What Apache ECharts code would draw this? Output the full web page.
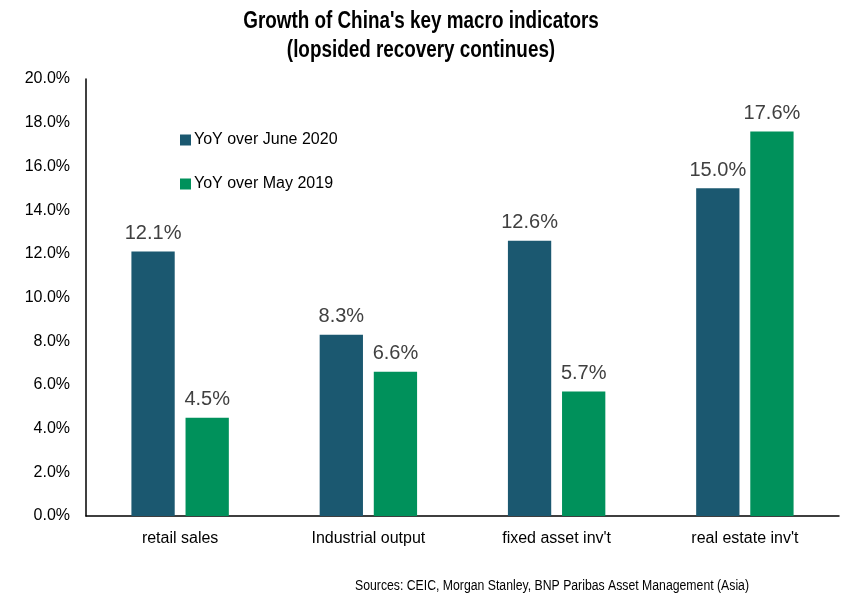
<!DOCTYPE html>
<html><head><meta charset="utf-8">
<script src="https://cdn.jsdelivr.net/npm/echarts@6/dist/echarts.min.js"></script>
<style>html,body{margin:0;padding:0;background:#fff}#c{width:857px;height:602px}</style>
</head><body><div id="c"></div>
<script>
const categories = ["retail sales", "Industrial output", "fixed asset inv't", "real estate inv't"];
const yoyJune2020 = [12.1, 8.3, 12.6, 15.0];
const yoyMay2019 = [4.5, 6.6, 5.7, 17.6];
const seriesNames = ["YoY over June 2020", "YoY over May 2019"];
const titleText = "Growth of China's key macro indicators\n(lopsided recovery continues)";
const sourceText = "Sources: CEIC, Morgan Stanley, BNP Paribas Asset Management (Asia)";
const narrow = "'Liberation Sans Narrow','Arial Narrow','Liberation Sans',Arial,sans-serif";
const chart = echarts.init(document.getElementById('c'));
const lbl = {show:true, position:'top', distance:8, fontFamily:"'Liberation Sans',Arial,sans-serif", fontSize:20, color:'#404040', formatter:p=>p.value.toFixed(1)+'%'};
chart.setOption({
  animation:false,
  graphic:[
    {type:'text', x:421, y:7, scaleX:0.82, style:{text:titleText, textAlign:'center', textVerticalAlign:'top',
      font:"bold 23px 'Liberation Sans',Arial,sans-serif", lineHeight:29, fill:'#000'}},
    {type:'text', x:749, y:579, scaleX:0.875, style:{text:sourceText, textAlign:'right', textVerticalAlign:'top',
      font:"14px 'Liberation Sans',Arial,sans-serif", fill:'#000'}}
  ],
  legend:{orient:'vertical', left:175, top:127, itemGap:28, itemWidth:11, itemHeight:11, icon:'rect',
    textStyle:{fontFamily:narrow, fontSize:16, color:'#000', padding:[0,0,0,-2]}, data:seriesNames},
  grid:{left:86, right:18, top:79, bottom:86},
  xAxis:{type:'category', data:categories, axisLine:{lineStyle:{color:'#000', width:1.5}}, axisTick:{show:false},
    axisLabel:{fontFamily:narrow, fontSize:16, color:'#000', margin:15}},
  yAxis:{type:'value', min:0, max:20, interval:2, splitLine:{show:false}, axisLine:{show:true, lineStyle:{color:'#000', width:1.5}},
    axisTick:{show:false}, axisLabel:{fontFamily:narrow, fontSize:16, color:'#000', margin:16, formatter:v=>v.toFixed(1)+'%'}},
  series:[
    {name:seriesNames[0], type:'bar', data:yoyJune2020, barWidth:'23%', barGap:'25%', itemStyle:{color:'#1B5870'}, label:lbl},
    {name:seriesNames[1], type:'bar', data:yoyMay2019, barWidth:'23%', itemStyle:{color:'#00915B'}, label:lbl}
  ]
});
</script></body></html>
